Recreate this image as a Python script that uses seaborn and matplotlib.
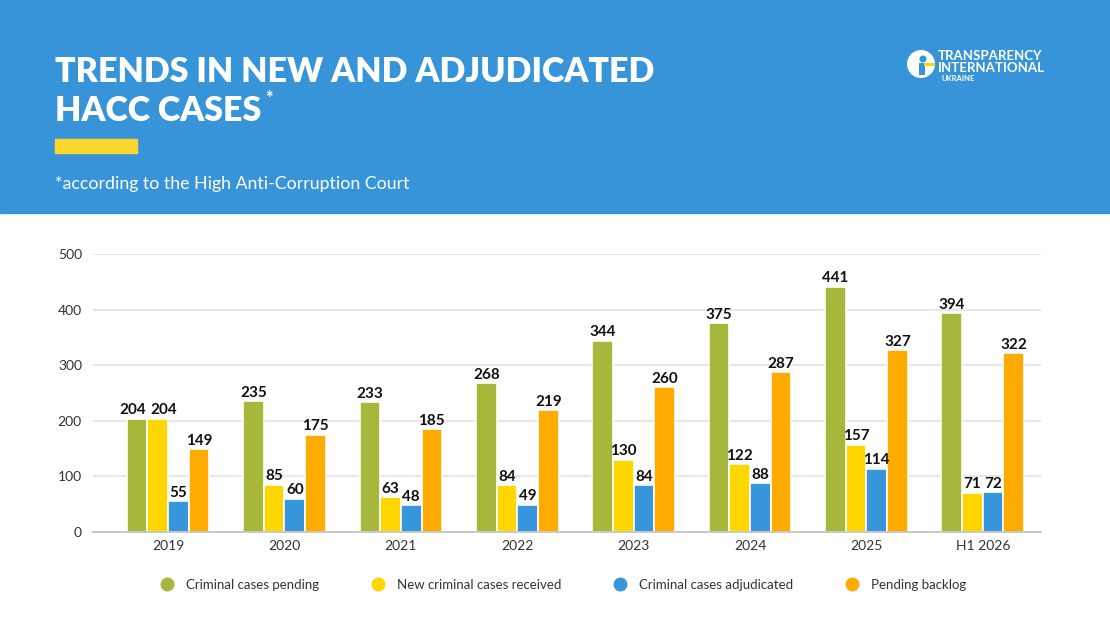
import seaborn as sns
import matplotlib.pyplot as plt
import pandas as pd
from matplotlib.lines import Line2D
from matplotlib.patches import Rectangle, Ellipse

# chart data
years = ["2019", "2020", "2021", "2022", "2023", "2024", "2025", "H1 2026"]
pending = [204, 235, 233, 268, 344, 375, 441, 394]
received = [204, 85, 63, 84, 130, 122, 157, 71]
adjudicated = [55, 60, 48, 49, 84, 88, 114, 72]
backlog = [149, 175, 185, 219, 260, 287, 327, 322]
series_names = ["Criminal cases pending", "New criminal cases received",
                "Criminal cases adjudicated", "Pending backlog"]
colors = ["#a7b73c", "#ffd600", "#3795db", "#ffab00"]

df = pd.DataFrame({"year": years * 4,
                   "value": pending + received + adjudicated + backlog,
                   "series": [s for s in series_names for _ in years]})

sns.set_theme(style="white")
plt.rcParams['font.family'] = ['Lato', 'DejaVu Sans']

W, H = 1110, 624
fig = plt.figure(figsize=(11.1, 6.24), dpi=100)

# blue header band
fig.patches.append(Rectangle((0, 1 - 213 / H), 1, 213 / H, transform=fig.transFigure,
                             color="#3794d9", zorder=0))
fig.patches.append(Rectangle((55 / W, 1 - 153 / H), 82 / W, 14 / H,
                             transform=fig.transFigure, color="#ffd62e", zorder=1))
fig.text(55 / W, 1 - 82 / H, "TRENDS IN NEW AND ADJUDICATED", color="white",
         fontsize=24.5, fontweight="heavy", va="baseline")
t2 = fig.text(55 / W, 1 - 121 / H, "HACC CASES", color="white",
              fontsize=24.5, fontweight="heavy", va="baseline")
fig.canvas.draw()
bb = t2.get_window_extent()
fig.text((bb.x1 + 4) / W, 1 - 104 / H, "*", color="white", fontsize=13, fontweight="bold",
         va="baseline")
fig.text(55 / W, 1 - 189 / H, "*according to the High Anti-Corruption Court",
         color="white", fontsize=12.8, va="baseline")

# logo
cx, cy = 921 / W, 1 - 64 / H
fig.patches.append(Ellipse((cx, cy), 28 / W, 28 / H, transform=fig.transFigure,
                           facecolor="white", edgecolor="none", zorder=2))
fig.patches.append(Ellipse((cx + 2 / W, cy + 5 / H), 7 / W, 7 / H, transform=fig.transFigure,
                           facecolor="#3794d9", edgecolor="none", zorder=3))
fig.patches.append(Rectangle((cx - 2 / W, cy - 11 / H), 6 / W, 12 / H, transform=fig.transFigure,
                             facecolor="#3794d9", edgecolor="none", zorder=3))
fig.patches.append(Rectangle((cx + 3 / W, cy - 2 / H), 11 / W, 3 / H, transform=fig.transFigure,
                             facecolor="#ffd600", edgecolor="none", zorder=3))
fig.text(938 / W, 1 - 60 / H, "TRANSPARENCY", color="white", fontsize=9.5,
         fontweight="bold", va="baseline")
fig.text(938 / W, 1 - 72 / H, "INTERNATIONAL", color="white", fontsize=9.5,
         fontweight="bold", va="baseline")
fig.text(942 / W, 1 - 81 / H, "UKRAINE", color="white", fontsize=5.5,
         fontweight="bold", va="baseline")

ax = fig.add_axes([93 / W, 1 - 532 / H, 948 / W, 278 / H])
sns.barplot(data=df, x="year", y="value", hue="series", palette=colors, width=0.71,
            edgecolor="white", linewidth=1.2, saturation=1, ax=ax, legend=False)

for i, c in enumerate(ax.containers):
    labels = ax.bar_label(c, fontsize=11, fontweight="bold", color="#111111", padding=1)
    # the first two labels of 2019 would touch, nudge them apart
    if i == 0:
        labels[0].xyann = (-3, 1)
    if i == 1:
        labels[0].xyann = (4, 1)

ax.set_ylim(0, 500)
ax.set_xlim(-0.645, 7.5)
ax.set_yticks([0, 100, 200, 300, 400, 500])
ax.yaxis.grid(True, color="#e4e4e4", linewidth=1.3)
ax.set_axisbelow(True)
for s in ["top", "right", "left"]:
    ax.spines[s].set_visible(False)
ax.spines["bottom"].set_color("#c4c4c4")
ax.spines["bottom"].set_linewidth(1.3)
ax.set_xlabel("")
ax.set_ylabel("")
ax.tick_params(axis="both", length=0, labelsize=10, labelcolor="#333333")
ax.tick_params(axis="y", pad=8)
ax.tick_params(axis="x", pad=6)

handles = [Line2D([], [], marker="o", linestyle="none", markersize=9,
                  markerfacecolor=c, markeredgecolor=c) for c in colors]
fig.legend(handles, series_names, loc="center", bbox_to_anchor=(560 / W, 1 - 585 / H),
           ncol=4, frameon=False, fontsize=9.5, labelcolor="#333333",
           columnspacing=3.5, handletextpad=0.4)

fig.savefig("out.png", dpi=100)
